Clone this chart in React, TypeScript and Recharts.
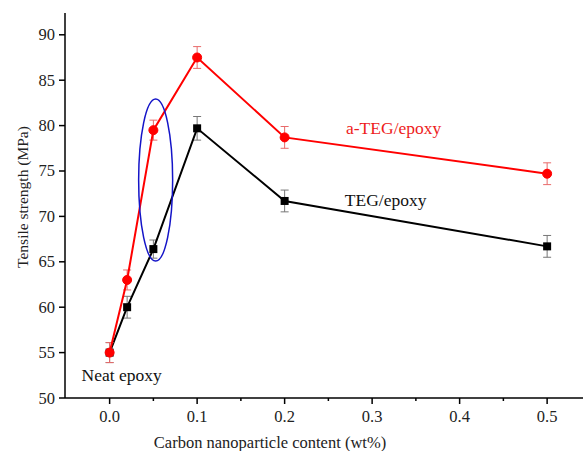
import React from 'react';
import {
  LineChart,
  Line,
  XAxis,
  YAxis,
  ErrorBar,
  ReferenceDot
} from 'recharts';

// wt% of carbon nanoparticles
const content = [0, 0.02, 0.05, 0.1, 0.2, 0.5];
// tensile strength (MPa)
const tegStrength = [55, 60, 66.4, 79.7, 71.7, 66.7];
const tegError = [1.1, 1.2, 1.0, 1.3, 1.2, 1.2];
const ategStrength = [55, 63, 79.5, 87.5, 78.7, 74.7];
const ategError = [1.1, 1.1, 1.1, 1.2, 1.2, 1.2];

const xTicks = [0, 0.05, 0.1, 0.15, 0.2, 0.25, 0.3, 0.35, 0.4, 0.45, 0.5];
const yTicks = [50, 52.5, 55, 57.5, 60, 62.5, 65, 67.5, 70, 72.5, 75, 77.5, 80, 82.5, 85, 87.5, 90];

const data = content.map((c, i) => ({
  content: c,
  teg: tegStrength[i],
  tegErr: tegError[i],
  ateg: ategStrength[i],
  ategErr: ategError[i]
}));

const FONT = "'Liberation Serif', 'Times New Roman', serif";

const isMajor = (v: number, step: number) =>
  Math.abs(v / step - Math.round(v / step)) < 1e-6;

const XTick = (props: any) => {
  const { x, y, payload } = props;
  const major = isMajor(payload.value, 0.1);
  return (
    <g>
      <line x1={x} x2={x} y1={y} y2={y + (major ? 6 : 3)} stroke="#000" strokeWidth={1.5} />
      {major && (
        <text x={x} y={y + 24} textAnchor="middle" style={{ fontFamily: FONT, fontSize: 16.5 }} fill="#222">
          {payload.value.toFixed(1)}
        </text>
      )}
    </g>
  );
};

const YTick = (props: any) => {
  const { x, y, payload } = props;
  const major = isMajor(payload.value, 5);
  return (
    <g>
      <line x1={x} x2={x - (major ? 6 : 3)} y1={y} y2={y} stroke="#000" strokeWidth={1.5} />
      {major && (
        <text x={x - 10} y={y + 5.5} textAnchor="end" style={{ fontFamily: FONT, fontSize: 16.5 }} fill="#222">
          {payload.value}
        </text>
      )}
    </g>
  );
};

const SquareDot = (props: any) => {
  const { cx, cy, index } = props;
  return <rect key={`sq-${index}`} x={cx - 4} y={cy - 4} width={8} height={8} fill="#000" />;
};

const textAt = (label: string, color: string, size: number) => (p: any) => (
  <text
    x={p.cx}
    y={p.cy}
    textAnchor="middle"
    dominantBaseline="central"
    style={{ fontFamily: FONT, fontSize: size }}
    fill={color}
  >
    {label}
  </text>
);

export default function App() {
  return (
    <div style={{ position: 'absolute', left: 0, top: 0, background: '#fff' }}>
      <LineChart width={583} height={451} data={data} margin={{ top: 13, right: 0, bottom: 0, left: 0 }}>
        <XAxis
          dataKey="content"
          type="number"
          domain={[-0.051, 0.541]}
          ticks={xTicks}
          allowDataOverflow
          height={53}
          tickLine={false}
          tickSize={0}
          tickMargin={0}
          tick={<XTick />}
          axisLine={{ stroke: '#000', strokeWidth: 1.5 }}
          label={{
            content: () => (
              <text x={270} y={442} textAnchor="middle" dominantBaseline="central"
                style={{ fontFamily: FONT, fontSize: 16.5 }} fill="#222">
                Carbon nanoparticle content (wt%)
              </text>
            )
          }}
        />
        <XAxis
          xAxisId="top"
          orientation="top"
          type="number"
          domain={[-0.051, 0.541]}
          height={0}
          tick={false}
          tickLine={false}
          axisLine={{ stroke: '#000', strokeWidth: 1.5 }}
        />
        <YAxis
          type="number"
          domain={[50, 92.4]}
          ticks={yTicks}
          allowDataOverflow
          width={65}
          tickLine={false}
          tickSize={0}
          tickMargin={0}
          tick={<YTick />}
          axisLine={{ stroke: '#000', strokeWidth: 1.5 }}
          label={{
            content: () => (
              <text transform="translate(22,197) rotate(-90)" textAnchor="middle" dominantBaseline="central"
                style={{ fontFamily: FONT, fontSize: 15.5 }} fill="#222">
                Tensile strength (MPa)
              </text>
            )
          }}
        />
        <Line
          dataKey="teg"
          stroke="#000"
          strokeWidth={2}
          dot={<SquareDot />}
          activeDot={false}
          isAnimationActive={false}
        >
          <ErrorBar dataKey="tegErr" direction="y" width={4} stroke="#777" strokeWidth={1} isAnimationActive={false} />
        </Line>
        <Line
          dataKey="ateg"
          stroke="#ff0000"
          strokeWidth={2}
          dot={{ r: 4.5, fill: '#ff0000', stroke: '#ff0000', strokeWidth: 1 }}
          activeDot={false}
          isAnimationActive={false}
        >
          <ErrorBar dataKey="ategErr" direction="y" width={4} stroke="#e86a6a" strokeWidth={1} isAnimationActive={false} />
        </Line>
        <ReferenceDot
          x={0.0526}
          y={74}
          r={0}
          shape={(p: any) => (
            <ellipse cx={p.cx} cy={p.cy} rx={17} ry={81} fill="none" stroke="#1414c8" strokeWidth={1.5} />
          )}
        />
        <ReferenceDot x={0.3246} y={79.75} r={0} shape={textAt('a-TEG/epoxy', '#ee1c1c', 17.5)} />
        <ReferenceDot x={0.3154} y={71.8} r={0} shape={textAt('TEG/epoxy', '#111', 17.5)} />
        <ReferenceDot x={0.0137} y={52.5} r={0} shape={textAt('Neat epoxy', '#111', 17.5)} />
      </LineChart>
    </div>
  );
}
